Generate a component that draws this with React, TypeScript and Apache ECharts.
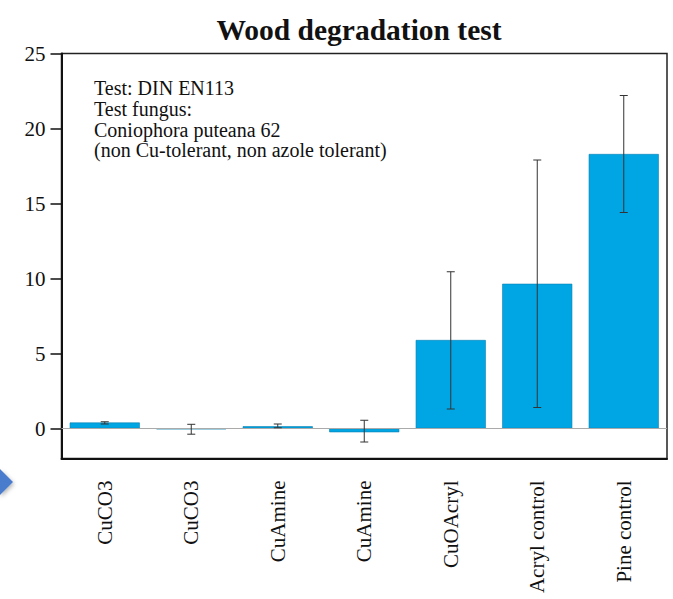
import React, { useEffect, useRef } from "react";
import * as echarts from "echarts";

const categories = ["CuCO3", "CuCO3", "CuAmine", "CuAmine", "CuOAcryl", "Acryl control", "Pine control"];
const values = [0.4, -0.05, 0.15, -0.25, 5.9, 9.65, 18.3];
const errLow = [0.3, -0.38, 0.05, -0.9, 1.3, 1.4, 14.4];
const errHigh = [0.45, 0.28, 0.3, 0.55, 10.45, 17.9, 22.2];
const yTicks = [0, 5, 10, 15, 20, 25];
const titleText = "Wood degradation test";
const noteLines = [
  "Test: DIN EN113",
  "Test fungus:",
  "Coniophora puteana 62",
  "(non Cu-tolerant, non azole tolerant)",
];

const SERIF = "Liberation Serif";

export default function App() {
  const ref = useRef<HTMLDivElement>(null);
  useEffect(() => {
    if (!ref.current) return;
    const chart = echarts.init(ref.current, null, { renderer: "svg" });
    const errData = categories.map((_, i) => [i, errLow[i], errHigh[i]]);
    chart.setOption({
      animation: false,
      backgroundColor: "#ffffff",
      title: {
        text: titleText,
        left: 354,
        textAlign: "center",
        top: 10,
        textStyle: { fontFamily: SERIF, fontSize: 29.5, fontWeight: "bold", color: "#111" },
      },
      grid: {
        left: 61.5,
        right: 6,
        top: 53.5,
        bottom: 140.5,
        show: true,
        borderColor: "#222",
        borderWidth: 1.5,
        backgroundColor: "transparent",
      },
      xAxis: {
        type: "category",
        data: categories,
        axisLine: { onZero: false, lineStyle: { color: "#111", width: 2 } },
        axisTick: { show: false },
        axisLabel: {
          rotate: 90,
          interval: 0,
          margin: 22,
          fontFamily: SERIF,
          fontSize: 21,
          color: "#111",
        },
      },
      yAxis: {
        type: "value",
        min: -2,
        max: 25,
        splitLine: { show: false },
        axisLine: { show: true, lineStyle: { color: "#111", width: 2 } },
        axisTick: { show: true, length: 11, customValues: yTicks, lineStyle: { color: "#111", width: 1.5 } },
        axisLabel: {
          customValues: yTicks,
          margin: 16,
          fontFamily: SERIF,
          fontSize: 21,
          color: "#111",
        },
      },
      series: [
        {
          type: "bar",
          data: values,
          barWidth: "81%",
          itemStyle: { color: "#00A6E3", borderColor: "#0a7fb0", borderWidth: 0.6 },
          markLine: {
            silent: true,
            symbol: "none",
            label: { show: false },
            lineStyle: { color: "#aaaaaa", type: "solid", width: 1.2 },
            data: [{ yAxis: 0 }],
          },
          z: 2,
        },
        {
          type: "custom",
          data: errData,
          encode: { x: 0, y: [1, 2] },
          z: 5,
          renderItem: (params: any, api: any) => {
            const i = api.value(0);
            const lo = api.coord([i, api.value(1)]);
            const hi = api.coord([i, api.value(2)]);
            const hw = 4;
            const style = { stroke: "#333", lineWidth: 1 };
            return {
              type: "group",
              children: [
                { type: "line", shape: { x1: lo[0], y1: lo[1], x2: hi[0], y2: hi[1] }, style },
                { type: "line", shape: { x1: lo[0] - hw, y1: lo[1], x2: lo[0] + hw, y2: lo[1] }, style },
                { type: "line", shape: { x1: hi[0] - hw, y1: hi[1], x2: hi[0] + hw, y2: hi[1] }, style },
              ],
            };
          },
        },
      ],
      graphic: [
        {
          type: "text",
          left: 94,
          top: 78,
          style: {
            text: noteLines.join("\n"),
            fontFamily: SERIF,
            fontSize: 20,
            lineHeight: 20.7,
            fill: "#111",
          },
        },
        {
          type: "polygon",
          shape: { points: [[0, 469], [13, 482], [0, 495]] },
          style: { fill: "#4a7ccc", shadowBlur: 4, shadowColor: "rgba(0,0,0,0.3)", shadowOffsetX: 1, shadowOffsetY: 2 },
        },
      ],
    });
    return () => chart.dispose();
  }, []);
  return (
    <div
      ref={ref}
      style={{ position: "fixed", left: 0, top: 0, width: 673, height: 599, background: "#fff" }}
    />
  );
}
